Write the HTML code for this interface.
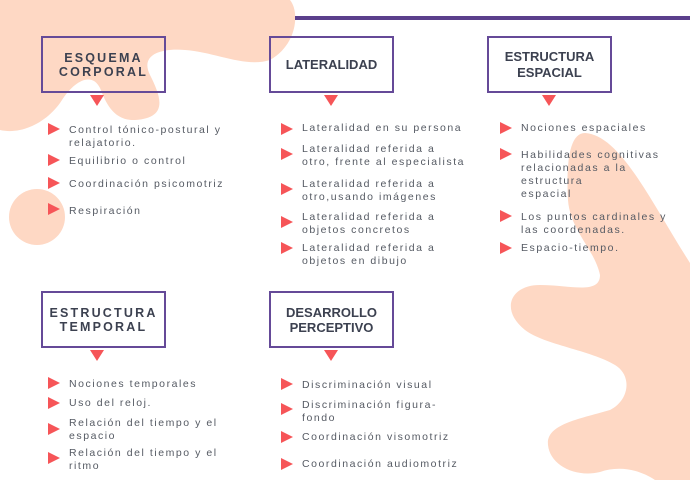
<!DOCTYPE html>
<html><head><meta charset="utf-8"><style>
body{margin:0;width:690px;height:480px;overflow:hidden;background:#fff;position:relative;font-family:"Liberation Sans",sans-serif}
svg.bg{position:absolute;left:0;top:0}
.box{position:absolute;width:121px;height:53px;border:2.5px solid #654a98;box-sizing:content-box;display:flex;align-items:center;justify-content:center;text-align:center;color:#3c4150;font-weight:bold;font-size:13px;line-height:14px}
.sp{letter-spacing:2.2px;font-size:12.5px}
.t{position:absolute;font-size:10.5px;letter-spacing:1.55px;color:#555a63;line-height:13px;white-space:nowrap}
.b{position:absolute;width:0;height:0;border-left:12px solid #f65558;border-top:6.5px solid transparent;border-bottom:6.5px solid transparent}
.d{position:absolute;width:0;height:0;border-top:11px solid #f65558;border-left:7px solid transparent;border-right:7px solid transparent}
</style></head><body>
<svg class="bg" width="690" height="480" viewBox="0 0 690 480">
<path fill="#fed8c4" d="M0,0 L290,0 C300,12 297,45 270,60 C245,68 215,52 185,50 C160,48 140,55 150,75 C160,95 170,118 135,120 C112,121 105,100 100,88 C92,72 75,80 62,100 C48,122 22,135 0,130 Z"/>
<circle cx="37" cy="217" r="28" fill="#fed8c4"/>
<path fill="#fed8c4" d="M585,133 C620,135 650,200 690,263 L690,480 L655,480 C640,470 620,465 600,472 C575,478 550,465 548,445 C546,425 575,420 610,410 C630,400 632,375 615,365 C590,350 545,345 525,330 C500,310 510,285 540,285 C570,285 600,295 600,275 C595,250 570,230 568,200 C566,160 570,133 585,133 Z"/>
</svg>
<div style="position:absolute;left:295px;top:16px;width:395px;height:4px;background:#5b3f8c"></div>

<div class="box sp" style="left:41px;top:36px">ESQUEMA<br>CORPORAL</div>
<div class="box" style="left:269px;top:36px">LATERALIDAD</div>
<div class="box" style="left:487px;top:36px;line-height:16px">ESTRUCTURA<br>ESPACIAL</div>
<div class="box sp" style="left:41px;top:291px">ESTRUCTURA<br>TEMPORAL</div>
<div class="box" style="left:269px;top:291px;line-height:15px">DESARROLLO<br>PERCEPTIVO</div>

<div class="d" style="left:90px;top:95px"></div>
<div class="d" style="left:324px;top:95px"></div>
<div class="d" style="left:542px;top:95px"></div>
<div class="d" style="left:90px;top:350px"></div>
<div class="d" style="left:324px;top:350px"></div>

<div class="b" style="left:48px;top:123px"></div><div class="t" style="left:69px;top:124px">Control tónico-postural y<br>relajatorio.</div>
<div class="b" style="left:48px;top:154px"></div><div class="t" style="left:69px;top:155px">Equilibrio o control</div>
<div class="b" style="left:48px;top:177px"></div><div class="t" style="left:69px;top:178px">Coordinación psicomotriz</div>
<div class="b" style="left:48px;top:203px"></div><div class="t" style="left:69px;top:205px">Respiración</div>

<div class="b" style="left:281px;top:123px"></div><div class="t" style="left:302px;top:122px">Lateralidad en su persona</div>
<div class="b" style="left:281px;top:148px"></div><div class="t" style="left:302px;top:143px">Lateralidad referida a<br>otro, frente al especialista</div>
<div class="b" style="left:281px;top:183px"></div><div class="t" style="left:302px;top:178px">Lateralidad referida a<br>otro,usando imágenes</div>
<div class="b" style="left:281px;top:216px"></div><div class="t" style="left:302px;top:211px">Lateralidad referida a<br>objetos concretos</div>
<div class="b" style="left:281px;top:242px"></div><div class="t" style="left:302px;top:242px">Lateralidad referida a<br>objetos en dibujo</div>

<div class="b" style="left:500px;top:122px"></div><div class="t" style="left:521px;top:122px">Nociones espaciales</div>
<div class="b" style="left:500px;top:148px"></div><div class="t" style="left:521px;top:149px">Habilidades cognitivas<br>relacionadas a la<br>estructura<br>espacial</div>
<div class="b" style="left:500px;top:210px"></div><div class="t" style="left:521px;top:211px">Los puntos cardinales y<br>las coordenadas.</div>
<div class="b" style="left:500px;top:242px"></div><div class="t" style="left:521px;top:242px">Espacio-tiempo.</div>

<div class="b" style="left:48px;top:377px"></div><div class="t" style="left:69px;top:378px">Nociones temporales</div>
<div class="b" style="left:48px;top:397px"></div><div class="t" style="left:69px;top:397px">Uso del reloj.</div>
<div class="b" style="left:48px;top:423px"></div><div class="t" style="left:69px;top:417px">Relación del tiempo y el<br>espacio</div>
<div class="b" style="left:48px;top:452px"></div><div class="t" style="left:69px;top:447px">Relación del tiempo y el<br>ritmo</div>

<div class="b" style="left:281px;top:378px"></div><div class="t" style="left:302px;top:379px">Discriminación visual</div>
<div class="b" style="left:281px;top:403px"></div><div class="t" style="left:302px;top:399px">Discriminación figura-<br>fondo</div>
<div class="b" style="left:281px;top:431px"></div><div class="t" style="left:302px;top:431px">Coordinación visomotriz</div>
<div class="b" style="left:281px;top:458px"></div><div class="t" style="left:302px;top:458px">Coordinación audiomotriz</div>
</body></html>
